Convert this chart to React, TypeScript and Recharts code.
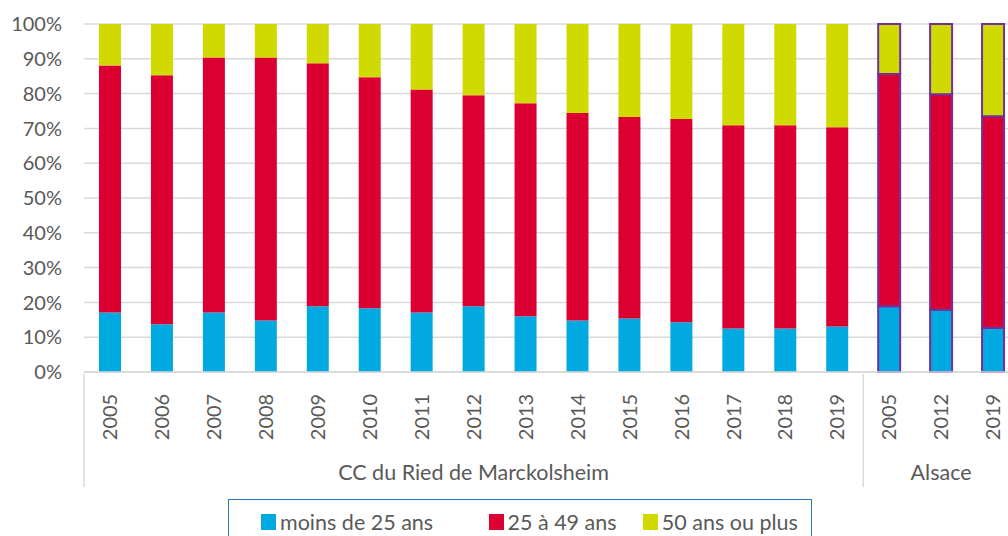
import React from 'react';
import { BarChart, Bar, XAxis, YAxis, CartesianGrid, Legend, Cell } from 'recharts';

const years = [
  '2005', '2006', '2007', '2008', '2009', '2010', '2011', '2012', '2013',
  '2014', '2015', '2016', '2017', '2018', '2019', '2005', '2012', '2019',
];
const groupLabels = ['CC du Ried de Marckolsheim', 'Alsace'];
const groupCounts = [15, 3];

const moins25 = [17.1, 13.7, 17.1, 14.8, 18.9, 18.3, 17.1, 18.9, 16.0, 14.8, 15.4, 14.3, 12.5, 12.5, 13.1, 18.9, 17.9, 12.7];
const de25a49 = [71.0, 71.6, 73.3, 75.6, 69.8, 66.4, 64.1, 60.6, 61.2, 59.6, 57.9, 58.4, 58.4, 58.4, 57.2, 66.7, 61.9, 60.8];
const plus50 = [11.9, 14.7, 9.6, 9.6, 11.3, 15.3, 18.8, 20.5, 22.8, 25.6, 26.7, 27.3, 29.1, 29.1, 29.7, 14.4, 20.2, 26.5];

const yTicks = [0, 10, 20, 30, 40, 50, 60, 70, 80, 90, 100];

const BLUE = '#00a9e0';
const RED = '#dc0032';
const YELLOW = '#d0da00';
const ALSACE_STROKE = '#7030a0';
const GRID = '#d9d9d9';
const TEXT = '#595959';
const FONT = 'Lato, "Open Sans", sans-serif';

const CHART_W = 1019;
const PLOT_LEFT = 84;
const BAND = (CHART_W - PLOT_LEFT) / years.length;

const groupOf: string[] = [];
groupLabels.forEach((g, i) => {
  for (let k = 0; k < groupCounts[i]; k++) groupOf.push(g);
});

const data = years.map((year, i) => ({
  year,
  group: groupOf[i],
  moins25: moins25[i],
  de25a49: de25a49[i],
  plus50: plus50[i],
}));

const series = [
  { key: 'moins25', name: 'moins de 25 ans', color: BLUE },
  { key: 'de25a49', name: '25 à 49 ans', color: RED },
  { key: 'plus50', name: '50 ans ou plus', color: YELLOW },
];

const YearTick = (props: any) => {
  const { x, y, payload } = props;
  return (
    <g transform={`translate(${x},${y + 43})`}>
      <text transform="rotate(-90)" textAnchor="middle" dy="0.36em" fill={TEXT} fontSize={20} fontFamily={FONT}>
        {payload.value}
      </text>
    </g>
  );
};

const GroupTick = (props: any) => {
  const { x, y, index } = props;
  let start = 0;
  for (let g = 0; g < groupCounts.length; g++) {
    if (index === start) {
      const cx = x + ((groupCounts[g] - 1) / 2) * BAND;
      const left = x - BAND / 2;
      return (
        <g>
          <line x1={left} x2={left} y1={y - 76} y2={y + 37} stroke={GRID} strokeWidth={1.5} />
          <text x={cx} y={y + 30} textAnchor="middle" fill={TEXT} fontSize={21.5} fontFamily={FONT}>
            {groupLabels[g]}
          </text>
        </g>
      );
    }
    start += groupCounts[g];
  }
  return <g />;
};

// legend item widths (marker + label + gap), taken from the reference layout
const legendItemWidths = [230, 156, 170];

const LegendBox = () => (
  <div
    style={{
      width: 584,
      height: 50,
      boxSizing: 'border-box',
      border: '1.5px solid #2e75b6',
      display: 'flex',
      alignItems: 'flex-start',
      paddingTop: 10,
      paddingLeft: 32,
      fontFamily: FONT,
      fontSize: 21.5,
      color: TEXT,
    }}
  >
    {series.map((s, i) => (
      <div key={s.key} style={{ display: 'flex', alignItems: 'center', width: legendItemWidths[i] }}>
        <span style={{ display: 'inline-block', width: 15, height: 16, background: s.color, marginRight: 4 }} />
        <span style={{ lineHeight: '24px', whiteSpace: 'nowrap' }}>{s.name}</span>
      </div>
    ))}
  </div>
);

export default function App() {
  return (
    <div style={{ position: 'absolute', left: 0, top: 0, width: 1008, height: 536, overflow: 'hidden', background: '#fff' }}>
      <BarChart
        width={CHART_W}
        height={536}
        data={data}
        barSize={22}
        margin={{ top: 24, right: 0, bottom: 48, left: 0 }}
      >
        <CartesianGrid vertical={false} stroke={GRID} strokeWidth={1.5} xAxisId={0} />
        <XAxis
          xAxisId={0}
          dataKey="year"
          interval={0}
          height={76}
          tick={<YearTick />}
          tickLine={false}
          tickSize={0}
          axisLine={{ stroke: GRID, strokeWidth: 1.5 }}
        />
        <XAxis
          xAxisId={1}
          dataKey="group"
          allowDuplicatedCategory
          interval={0}
          height={40}
          tick={<GroupTick />}
          tickLine={false}
          tickSize={0}
          axisLine={false}
        />
        <YAxis
          width={84}
          domain={[0, 100]}
          ticks={yTicks}
          interval={0}
          tickFormatter={(v: number) => `${v}%`}
          tick={{ fill: TEXT, fontSize: 20, fontFamily: FONT }}
          axisLine={false}
          tickLine={false}
          tickSize={0}
          tickMargin={22}
        />
        <Legend
          layout="horizontal"
          verticalAlign="middle"
          align="center"
          content={<LegendBox />}
          wrapperStyle={{ position: 'absolute', left: 228, top: 499, width: 584 }}
        />
        {series.map((s) => (
          <Bar
            key={s.key}
            xAxisId={0}
            dataKey={s.key}
            name={s.name}
            stackId="a"
            fill={s.color}
            isAnimationActive={false}
          >
            {data.map((d, i) => (
              <Cell
                key={`c-${i}`}
                fill={s.color}
                stroke={d.group === 'Alsace' ? ALSACE_STROKE : 'none'}
                strokeWidth={d.group === 'Alsace' ? 2 : 0}
              />
            ))}
          </Bar>
        ))}
      </BarChart>
    </div>
  );
}
